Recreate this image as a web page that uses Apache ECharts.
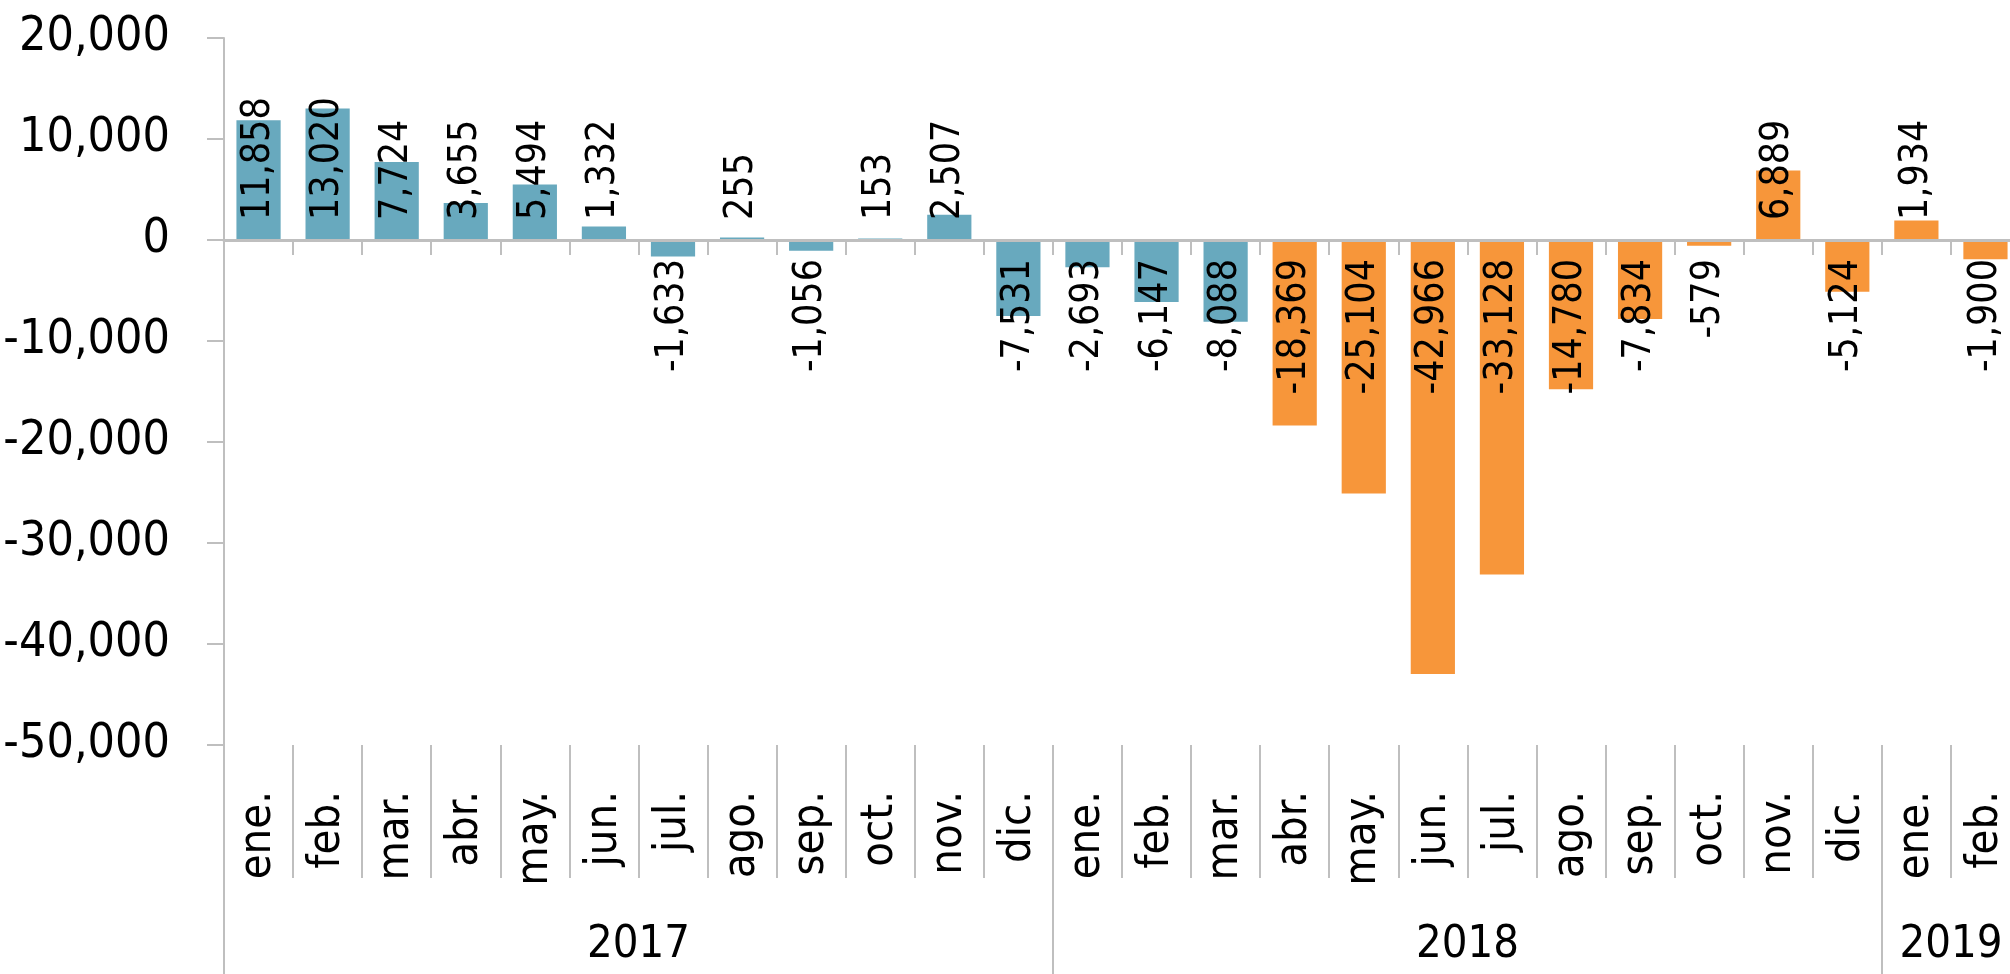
<!DOCTYPE html>
<html>
<head>
<meta charset="utf-8">
<script src="https://cdn.jsdelivr.net/npm/echarts@6/dist/echarts.min.js"></script>
<style>
html,body{margin:0;padding:0;background:#fff;}
#main{width:2010px;height:974px;}
</style>
</head>
<body>
<div id="main"></div>
<script type="text/javascript">
// datos mensuales
var meses = ['ene.','feb.','mar.','abr.','may.','jun.','jul.','ago.','sep.','oct.','nov.','dic.',
             'ene.','feb.','mar.','abr.','may.','jun.','jul.','ago.','sep.','oct.','nov.','dic.',
             'ene.','feb.'];
var valores = [11858, 13020, 7724, 3655, 5494, 1332, -1633, 255, -1056, 153, 2507, -7531,
               -2693, -6147, -8088, -18369, -25104, -42966, -33128, -14780, -7834, -579, 6889, -5124,
               1934, -1900];
var anios = ['2017','2018','2019'];
var anioCentro = [6, 18, 25];     // posicion del texto de cada año
var anioLimites = [0, 12, 24];    // separadores de año
var corte = 15;                   // a partir de abr. 2018 cambia el color

var FONT = "'DejaVu Sans Condensed', 'DejaVu Sans', sans-serif";
var AZUL = '#68a9be', NARANJA = '#f7963a', GRIS = '#bfbfbf';

function fmt(v){ return Number(v).toLocaleString('en-US'); }

var datos = [];
for (var i = 0; i < valores.length; i++) {
	var pos = valores[i] >= 0;
	datos.push({
		value: valores[i],
		itemStyle: { color: i < corte ? AZUL : NARANJA },
		label: pos ? { position: 'insideBottom', distance: 20, align: 'left' }
		           : { position: 'insideTop', distance: 19, align: 'right' }
	});
}

var myChart = echarts.init(document.getElementById('main'));

var option = {
	animation: false,
	grid: { left: 224, right: -10, top: 38, bottom: 229, containLabel: false, outerBoundsMode: 'none' },
	xAxis: [
		{
			type: 'category',
			data: meses,
			position: 'bottom',
			axisLine: { show: false, onZero: false },
			axisTick: { show: true, length: 133, lineStyle: { color: GRIS, width: 2 } },
			axisLabel: { rotate: 90, margin: 46, fontSize: 45, color: '#000', fontFamily: FONT, interval: 0 },
			splitLine: { show: false }
		},
		{
			type: 'value',
			min: 0,
			max: 26,
			position: 'bottom',
			axisLine: { show: false, onZero: false },
			axisTick: { show: true, customValues: anioLimites, length: 229, lineStyle: { color: GRIS, width: 2 } },
			axisLabel: {
				customValues: anioCentro,
				margin: 178,
				fontSize: 45,
				color: '#000',
				fontFamily: FONT,
				formatter: function (v) { return anios[anioCentro.indexOf(v)] || ''; }
			},
			splitLine: { show: false }
		},
		{
			type: 'category',
			data: meses,
			position: 'bottom',
			axisLine: { show: true, onZero: true, lineStyle: { color: GRIS, width: 3 } },
			axisTick: { show: true, length: 15, lineStyle: { color: GRIS, width: 2 } },
			axisLabel: { show: false },
			splitLine: { show: false },
			z: 5
		}
	],
	yAxis: {
		type: 'value',
		min: -50000,
		max: 20000,
		interval: 10000,
		axisLine: { show: true, lineStyle: { color: GRIS, width: 2 } },
		axisTick: { show: true, length: 17, lineStyle: { color: GRIS, width: 2 } },
		axisLabel: { margin: 54, fontSize: 48, color: '#000', fontFamily: FONT, formatter: fmt },
		splitLine: { show: false }
	},
	series: [
		{
			type: 'bar',
			xAxisIndex: 0,
			barWidth: '64%',
			data: datos,
			label: {
				show: true,
				rotate: 90,
				verticalAlign: 'middle',
				fontSize: 39,
				color: '#000',
				fontFamily: FONT,
				formatter: function (p) { return fmt(p.value); }
			}
		}
	]
};

myChart.setOption(option);
</script>
</body>
</html>
